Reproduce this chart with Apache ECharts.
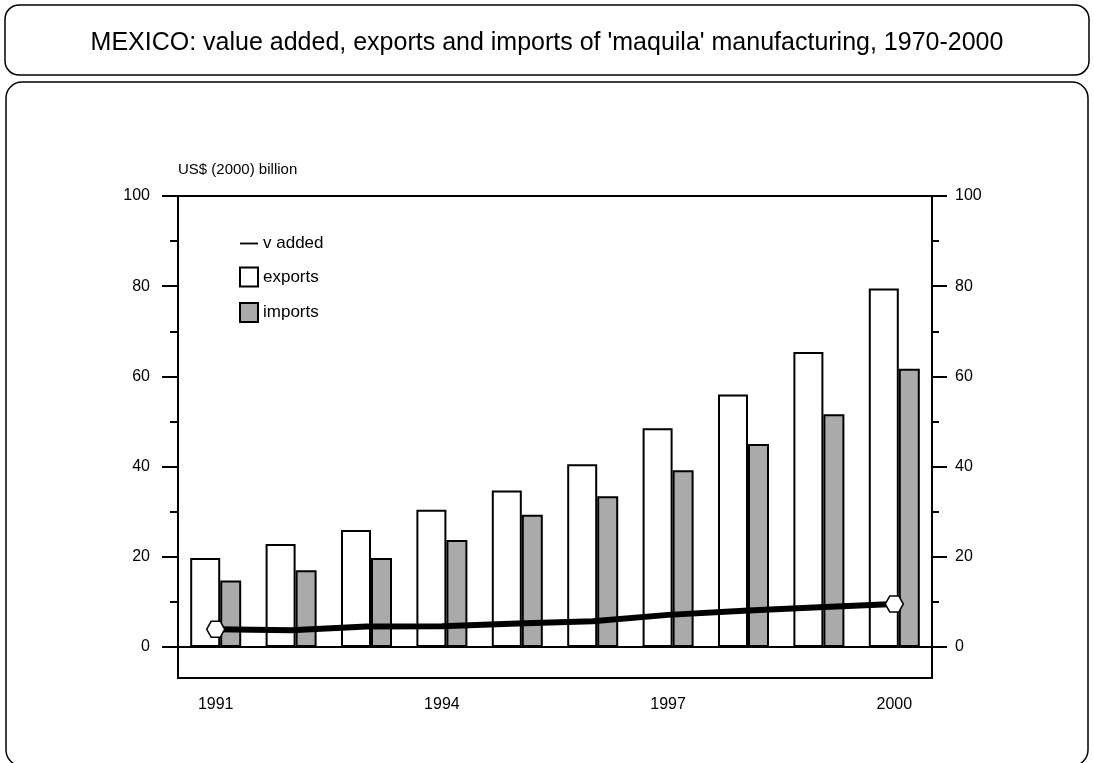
<!DOCTYPE html>
<html>
<head>
<meta charset="utf-8">
<title>maquila</title>
<script src="https://cdn.jsdelivr.net/npm/echarts@6.0.0/dist/echarts.min.js"></script>
<style>
  html, body { margin: 0; padding: 0; background: #fff; }
  #chart { width: 1094px; height: 763px; }
</style>
</head>
<body>
<div id="chart"></div>
<script>
  // values, US$ (2000) billion
  var years = ['1991', '1992', '1993', '1994', '1995', '1996', '1997', '1998', '1999', '2000'];
  var exportsData = [19.7, 22.8, 25.9, 30.4, 34.7, 40.5, 48.5, 56.0, 65.4, 79.5];
  var importsData = [14.7, 17.0, 19.7, 23.7, 29.3, 33.4, 39.2, 45.0, 51.6, 61.7];
  var vAdded = [3.9, 3.7, 4.5, 4.6, 5.2, 5.7, 7.1, 8.0, 8.8, 9.5];
  var majorTicks = [0, 20, 40, 60, 80, 100];
  var minorTicks = [10, 30, 50, 70, 90];

  var font = '"Liberation Sans", Arial, sans-serif';
  var chart = echarts.init(document.getElementById('chart'));

  function yAxisFor(pos, ticks, len, labels) {
    return {
      type: 'value',
      position: pos,
      min: -6.9,
      max: 100,
      splitLine: { show: false },
      axisLine: { show: labels, onZero: false, lineStyle: { color: '#000', width: 2 } },
      axisTick: { show: true, inside: false, length: len, customValues: ticks, lineStyle: { color: '#000', width: 2 } },
      axisLabel: {
        show: labels,
        customValues: majorTicks,
        margin: pos === 'left' ? 28 : 23,
        color: '#000',
        fontSize: 16,
        fontFamily: font
      }
    };
  }

  var yLeft = yAxisFor('left', majorTicks, 16, true);
  yLeft.name = 'US$ (2000) billion';
  yLeft.nameLocation = 'end';
  yLeft.nameGap = 19;
  yLeft.nameTextStyle = { align: 'left', color: '#000', fontSize: 15, fontFamily: font };

  // markers only at the first and last year (hexagon like the original)
  var hexagon = 'path://M3,0 L9,0 L12,5 L9,10 L3,10 L0,5 Z';
  var lineData = vAdded.map(function (v, i) {
    if (i === 0 || i === vAdded.length - 1) {
      return { value: v, symbol: hexagon, symbolSize: [18, 16] };
    }
    return { value: v, symbol: 'none' };
  });

  var option = {
    animation: false,
    backgroundColor: '#fff',
    title: {
      text: "MEXICO: value added, exports and imports of 'maquila' manufacturing, 1970-2000",
      left: 'center',
      top: 26,
      textStyle: { fontSize: 25, fontWeight: 'normal', color: '#000', fontFamily: font }
    },
    graphic: [
      { type: 'rect', shape: { x: 5, y: 5, width: 1084, height: 70, r: 14 }, style: { fill: 'none', stroke: '#000', lineWidth: 1.5 }, silent: true },
      { type: 'rect', shape: { x: 6, y: 82, width: 1082, height: 684, r: 16 }, style: { fill: 'none', stroke: '#000', lineWidth: 1.5 }, silent: true }
    ],
    legend: {
      orient: 'vertical',
      left: 234,
      top: 230,
      itemWidth: 18,
      itemHeight: 19,
      itemGap: 14.5,
      textStyle: { fontSize: 17, color: '#000', fontFamily: font },
      data: [
        { name: 'v added', icon: 'path://M0,0 L18,0 L18,1.8 L0,1.8 Z', itemStyle: { color: '#000', borderWidth: 0 } },
        { name: 'exports', icon: 'rect' },
        { name: 'imports', icon: 'rect' }
      ]
    },
    grid: { left: 178, right: 162, top: 196, bottom: 85 },
    xAxis: [
      {
        type: 'category',
        data: years,
        position: 'bottom',
        axisLine: { onZero: false, lineStyle: { color: '#000', width: 2 } },
        axisTick: { inside: true, length: 10, interval: 0, alignWithLabel: true, lineStyle: { color: '#000', width: 2 } },
        axisLabel: { interval: 2, margin: 19, color: '#000', fontSize: 16, fontFamily: font }
      },
      {
        type: 'category',
        data: years,
        position: 'bottom',
        axisLine: { show: false, onZero: false },
        axisTick: { inside: false, length: 9, interval: 2, alignWithLabel: true, lineStyle: { color: '#000', width: 2 } },
        axisLabel: { show: false }
      },
      {
        type: 'category',
        data: years,
        position: 'top',
        axisLine: { onZero: false, lineStyle: { color: '#000', width: 2 } },
        axisTick: { show: false },
        axisLabel: { show: false }
      },
      {
        // zero baseline
        type: 'category',
        data: years,
        position: 'bottom',
        axisLine: { onZero: true, onZeroAxisIndex: 0, lineStyle: { color: '#000', width: 2 } },
        axisTick: { show: false },
        axisLabel: { show: false }
      }
    ],
    yAxis: [
      yLeft,
      yAxisFor('left', minorTicks, 8, false),
      yAxisFor('right', majorTicks, 15, true),
      yAxisFor('right', minorTicks, 7, false)
    ],
    series: [
      {
        name: 'exports',
        type: 'bar',
        barWidth: 30,
        barGap: 0,
        data: exportsData,
        itemStyle: { color: '#fff', borderColor: '#000', borderWidth: 2 }
      },
      {
        name: 'imports',
        type: 'bar',
        barWidth: 21,
        barGap: 0,
        data: importsData,
        itemStyle: { color: '#aaaaaa', borderColor: '#000', borderWidth: 2 }
      },
      {
        name: 'v added',
        type: 'line',
        symbol: 'none',
        z: 5,
        data: lineData,
        lineStyle: { color: '#000', width: 6 },
        itemStyle: { color: '#fff', borderColor: '#000', borderWidth: 1.5 }
      }
    ]
  };

  chart.setOption(option);
  window.onresize = function () {
    chart.resize();
  };
</script>
</body>
</html>
